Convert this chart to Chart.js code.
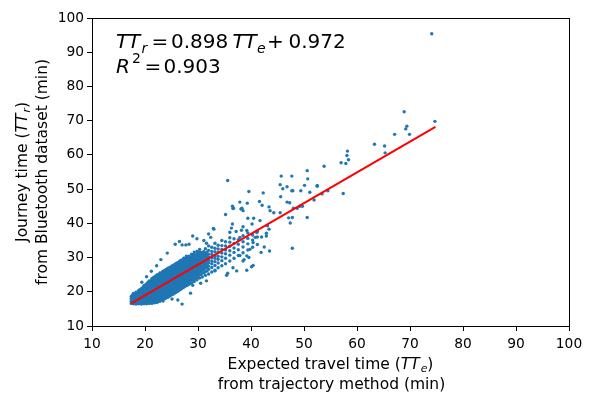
<!DOCTYPE html>
<html>
<head>
<meta charset="utf-8">
<script src="https://cdn.jsdelivr.net/npm/chart.js@4.4.0/dist/chart.umd.min.js"></script>
<style>
    html, body { margin: 0; padding: 0; background: #fff; }
    canvas { display: block; }
</style>
</head>
<body>
<canvas id="scatterChart" width="592" height="393"></canvas>
<script>
const xTicks = [10, 20, 30, 40, 50, 60, 70, 80, 90, 100];
const yTicks = [10, 20, 30, 40, 50, 60, 70, 80, 90, 100];

// dense core of the cloud, read strip by strip: [expected time, [journey times]]
const denseStrips = [
    [17.4, [16.6, 17.2, 17.9, 18.6]],
    [17.6, [16.8, 17.5, 18.2, 18.9]],
    [17.8, [16.5, 17.0, 17.7, 18.3, 19.0, 19.5]],
    [18.05, [16.7, 17.3, 18.0, 18.6, 19.2]],
    [18.3, [16.4, 16.9, 17.5, 18.1, 18.8, 19.4, 19.9]],
    [18.55, [16.6, 17.2, 17.8, 18.5, 19.1, 19.8]],
    [18.8, [16.5, 17.1, 17.8, 18.4, 19.0, 19.7, 20.4]],
    [19.05, [16.7, 17.4, 18.1, 18.7, 19.4, 20.1, 20.6]],
    [19.3, [16.4, 16.9, 17.5, 18.2, 18.9, 19.5, 20.2, 20.9]],
    [19.55, [16.6, 17.2, 17.9, 18.5, 19.2, 19.9, 20.5, 21.2]],
    [19.8, [16.5, 17.2, 17.9, 18.6, 19.2, 19.9, 20.6, 21.3, 21.8]],
    [20.05, [16.8, 17.5, 18.2, 18.9, 19.6, 20.3, 20.9, 21.6, 22.0]],
    [20.3, [16.5, 17.0, 17.7, 18.3, 19.0, 19.7, 20.4, 21.0, 21.7, 22.3]],
    [20.55, [16.7, 17.4, 18.1, 18.8, 19.4, 20.1, 20.8, 21.5, 22.1, 22.7]],
    [20.8, [16.6, 17.3, 18.0, 18.7, 19.4, 20.1, 20.7, 21.4, 22.1, 22.8, 23.2]],
    [21.05, [16.9, 17.6, 18.3, 19.0, 19.7, 20.4, 21.1, 21.7, 22.4, 23.1]],
    [21.3, [16.6, 17.2, 17.9, 18.5, 19.2, 19.9, 20.6, 21.3, 22.0, 22.7, 23.4, 23.8]],
    [21.55, [16.9, 17.6, 18.2, 18.9, 19.6, 20.3, 20.9, 21.6, 22.3, 23.0, 23.6, 24.1]],
    [21.8, [16.8, 17.5, 18.2, 18.9, 19.6, 20.3, 21.0, 21.6, 22.3, 23.0, 23.7, 24.3]],
    [22.05, [17.1, 17.8, 18.5, 19.2, 19.9, 20.6, 21.3, 22.0, 22.7, 23.4, 24.0, 24.6]],
    [22.3, [16.9, 17.6, 18.3, 19.0, 19.7, 20.4, 21.1, 21.8, 22.5, 23.2, 23.9, 24.6, 25.0]],
    [22.55, [17.3, 18.0, 18.7, 19.4, 20.1, 20.8, 21.5, 22.2, 22.9, 23.6, 24.3, 24.9]],
    [22.8, [17.2, 17.9, 18.6, 19.3, 20.0, 20.7, 21.4, 22.1, 22.8, 23.5, 24.2, 24.9, 25.5]],
    [23.05, [17.6, 18.3, 19.0, 19.7, 20.4, 21.1, 21.8, 22.5, 23.2, 23.9, 24.6, 25.3]],
    [23.3, [17.5, 18.2, 18.9, 19.6, 20.3, 21.0, 21.7, 22.4, 23.1, 23.8, 24.5, 25.2, 25.9]],
    [23.55, [17.9, 18.6, 19.3, 20.0, 20.7, 21.4, 22.1, 22.8, 23.5, 24.2, 24.9, 25.6, 26.1]],
    [23.8, [18.0, 18.7, 19.4, 20.1, 20.8, 21.5, 22.2, 22.9, 23.6, 24.3, 25.0, 25.7, 26.3]],
    [24.05, [18.3, 19.0, 19.7, 20.4, 21.1, 21.8, 22.5, 23.2, 23.9, 24.6, 25.3, 26.0, 26.6]],
    [24.3, [18.4, 19.1, 19.8, 20.5, 21.2, 21.9, 22.6, 23.3, 24.0, 24.7, 25.4, 26.1, 26.8]],
    [24.55, [18.7, 19.4, 20.1, 20.8, 21.5, 22.2, 22.9, 23.6, 24.3, 25.0, 25.7, 26.4, 27.0]],
    [24.8, [18.9, 19.6, 20.3, 21.0, 21.7, 22.4, 23.1, 23.8, 24.5, 25.2, 25.9, 26.6, 27.2]],
    [25.05, [19.2, 19.9, 20.6, 21.3, 22.0, 22.7, 23.4, 24.1, 24.8, 25.5, 26.2, 26.9, 27.5]],
    [25.3, [19.3, 20.0, 20.7, 21.4, 22.1, 22.8, 23.5, 24.2, 24.9, 25.6, 26.3, 27.0, 27.7]],
    [25.55, [19.6, 20.3, 21.0, 21.7, 22.4, 23.1, 23.8, 24.5, 25.2, 25.9, 26.6, 27.3, 27.9]],
    [25.8, [19.8, 20.5, 21.2, 21.9, 22.6, 23.3, 24.0, 24.7, 25.4, 26.1, 26.8, 27.5, 28.2]],
    [26.05, [20.1, 20.8, 21.5, 22.2, 22.9, 23.6, 24.3, 25.0, 25.7, 26.4, 27.1, 27.8, 28.4]],
    [26.3, [20.3, 21.0, 21.7, 22.4, 23.1, 23.8, 24.5, 25.2, 25.9, 26.6, 27.3, 28.0, 28.6]],
    [26.55, [20.6, 21.3, 22.0, 22.7, 23.4, 24.1, 24.8, 25.5, 26.2, 26.9, 27.6, 28.3, 28.9]],
    [26.8, [20.8, 21.6, 22.3, 23.0, 23.7, 24.4, 25.1, 25.8, 26.5, 27.2, 27.9, 28.6, 29.2]],
    [27.05, [21.1, 21.9, 22.6, 23.3, 24.0, 24.7, 25.4, 26.1, 26.8, 27.5, 28.2, 28.9]],
    [27.3, [21.3, 22.0, 22.8, 23.5, 24.2, 24.9, 25.6, 26.3, 27.0, 27.7, 28.4, 29.2, 29.8]],
    [27.55, [21.6, 22.4, 23.1, 23.8, 24.5, 25.2, 25.9, 26.6, 27.3, 28.0, 28.7, 29.5]],
    [27.8, [21.8, 22.7, 23.4, 24.1, 24.8, 25.5, 26.2, 26.9, 27.6, 28.3, 29.0, 29.8, 30.4]],
    [28.05, [22.0, 22.9, 23.7, 24.4, 25.1, 25.8, 26.5, 27.2, 27.9, 28.6, 29.4, 30.1]],
    [28.3, [22.2, 23.1, 23.9, 24.6, 25.3, 26.0, 26.8, 27.5, 28.2, 28.9, 29.7, 30.4]],
    [28.55, [22.5, 23.4, 24.2, 24.9, 25.6, 26.3, 27.0, 27.7, 28.5, 29.2, 29.9]],
    [28.8, [22.6, 23.6, 24.4, 25.1, 25.9, 26.6, 27.3, 28.1, 28.8, 29.6, 30.3, 31.0]],
    [29.05, [23.3, 24.2, 25.0, 25.8, 26.5, 27.3, 28.0, 28.8, 29.6, 30.4]],
    [29.3, [23.0, 24.0, 24.9, 25.7, 26.4, 27.2, 27.9, 28.7, 29.4, 30.2, 31.0, 31.6]],
    [29.55, [23.8, 24.7, 25.6, 26.4, 27.3, 28.1, 28.9, 29.7, 30.6]],
    [29.8, [23.5, 24.5, 25.3, 26.1, 27.0, 27.7, 28.5, 29.2, 30.0, 30.9, 31.8]],
    [30.05, [24.3, 25.3, 26.2, 27.1, 27.9, 28.7, 29.5, 30.4, 31.2]],
    [30.3, [24.0, 25.0, 25.9, 26.8, 27.5, 28.3, 29.1, 29.9, 30.8, 31.7, 32.4]],
    [30.55, [25.0, 26.1, 27.0, 27.8, 28.6, 29.4, 30.3, 31.1]],
    [30.8, [24.3, 25.6, 26.4, 27.2, 28.1, 28.9, 29.6, 30.6, 31.5]],
    [31.1, [25.5, 26.6, 27.5, 28.3, 29.1, 30.0, 30.9, 31.8]],
    [31.4, [24.8, 25.9, 27.0, 27.8, 28.6, 29.5, 30.3, 31.2, 32.6]],
    [31.7, [26.1, 27.2, 28.1, 29.0, 29.8, 30.7, 31.6]],
    [32.0, [25.2, 26.6, 27.5, 28.5, 29.3, 30.1, 31.0, 32.1, 33.4]],
    [32.6, [25.8, 27.1, 28.2, 29.0, 30.0, 30.9, 31.8, 33.0]],
    [33.2, [26.3, 27.7, 28.8, 29.8, 30.6, 31.7, 32.7, 34.2]],
    [33.8, [27.0, 28.4, 29.5, 30.4, 31.5, 32.5, 33.6]],
    [34.5, [27.6, 29.1, 30.2, 31.3, 32.4, 33.5, 35.0]],
    [35.2, [28.2, 29.8, 31.1, 32.2, 33.4, 34.6]],
    [36.0, [29.0, 30.7, 32.0, 33.3, 34.5, 35.8]],
    [36.8, [29.8, 31.5, 32.8, 34.1, 35.5]],
    [37.6, [30.6, 32.3, 33.9, 35.2]],
    [38.5, [31.4, 33.1, 34.6, 36.4]],
    [39.4, [32.2, 34.0, 35.6, 37.2]],
    [40.3, [33.0, 35.1, 36.6]],
    [41.2, [33.8, 36.0, 37.7]]
];

// scattered points around the core and along the upper tail
const spreadPoints = [
    [23.4, 17.3], [25.1, 17.9], [27.0, 16.4], [26.2, 17.6], [28.6, 19.6], [29.0, 21.9],
    [30.5, 22.5], [27.2, 21.5], [31.6, 23.2], [33.2, 26.1], [35.4, 24.8], [37.3, 26.1],
    [35.6, 25.4], [36.6, 27.0], [39.2, 26.3], [40.1, 27.3], [40.4, 27.7], [38.7, 29.4],
    [39.6, 30.0], [37.9, 30.6], [41.9, 31.5], [42.5, 33.1], [43.5, 31.9], [47.8, 32.7],
    [39.2, 30.5], [39.8, 32.4], [38.5, 29.0], [40.4, 34.4], [41.1, 37.3],
    [25.7, 33.9], [26.5, 34.7], [27.0, 33.7], [27.7, 33.7], [28.3, 33.9], [29.0, 36.3],
    [29.8, 35.5], [33.0, 38.3], [32.0, 36.9], [31.1, 35.0], [31.6, 34.2], [32.9, 38.5],
    [32.4, 35.9], [24.2, 31.3], [23.0, 29.4], [22.2, 27.6], [21.2, 26.0], [20.3, 24.4],
    [19.4, 22.8]
];

const outlierPoints = [
    [36.0, 37.4], [36.3, 38.6], [36.5, 39.8], [37.2, 37.6], [38.2, 38.0], [38.5, 39.0],
    [39.2, 37.9], [37.9, 35.9], [40.8, 35.9], [42.0, 36.0], [42.9, 36.3], [42.9, 37.1],
    [43.4, 38.3], [43.1, 39.3], [41.7, 40.8], [40.2, 39.8], [40.5, 41.5], [39.4, 41.5],
    [38.5, 43.7], [35.2, 42.6], [36.5, 45.0], [36.6, 44.3], [38.1, 44.2], [37.9, 46.2],
    [39.3, 45.9], [36.7, 44.4], [38.3, 44.4], [41.6, 46.4], [42.1, 45.3], [43.4, 44.8],
    [43.6, 43.7], [44.3, 43.1], [45.5, 43.1], [47.1, 41.6], [47.8, 41.7], [50.6, 41.7],
    [47.4, 40.1], [46.8, 46.2], [47.3, 46.0], [48.0, 44.4], [48.7, 44.4], [49.2, 45.0],
    [49.7, 45.0], [45.6, 47.8], [51.9, 46.8], [53.4, 48.6], [39.6, 49.3], [42.3, 48.9],
    [47.7, 49.5], [47.9, 49.5], [49.4, 49.5], [51.1, 49.1], [52.5, 50.8], [54.5, 49.5],
    [57.4, 48.7], [45.5, 51.3], [46.8, 50.7], [46.0, 50.1], [50.1, 51.1], [52.5, 51.1],
    [50.7, 53.0], [45.7, 53.8], [47.7, 53.8], [35.6, 52.5], [50.6, 55.4], [53.8, 56.7],
    [57.0, 57.7], [57.9, 57.5], [58.4, 58.6], [58.1, 59.8], [58.2, 61.1], [65.3, 60.6],
    [63.3, 63.1], [65.2, 62.6], [67.1, 66.0], [69.9, 66.0], [69.2, 67.6], [69.4, 68.4],
    [74.7, 69.8], [68.9, 72.6], [74.1, 95.4]
];

// fitted line, end points
const fitX = [17.4, 74.8];
const fitY = [16.6, 68.2];

const FONT = '"DejaVu Sans", "Liberation Sans", sans-serif';
const BLUE = '#1f77b4';

const scatterData = [];
denseStrips.forEach(([x, ys]) => ys.forEach((y) => scatterData.push({ x: x, y: y })));
spreadPoints.concat(outlierPoints).forEach(([x, y]) => scatterData.push({ x: x, y: y }));
const fitData = fitX.map((x, i) => ({ x: x, y: fitY[i] }));

// mixed roman / italic text with subscripts
function drawRich(ctx, parts, x, y, size, align) {
    const setFont = (p) => {
        const fs = p.sub ? size * 0.7 : size;
        ctx.font = (p.it ? 'italic ' : '') + fs + 'px ' + FONT;
    };
    let total = 0;
    parts.forEach((p) => { setFont(p); total += ctx.measureText(p.t).width + (p.gap || 0); });
    let cx = align === 'center' ? x - total / 2 : x;
    parts.forEach((p) => {
        setFont(p);
        const dy = p.sub ? size * 0.2 : 0;
        ctx.fillText(p.t, cx, y + dy);
        cx += ctx.measureText(p.t).width + (p.gap || 0);
    });
}

const decorations = {
    id: 'decorations',
    afterDraw(chart) {
        const ctx = chart.ctx;
        const a = chart.chartArea;
        ctx.save();

        // frame
        ctx.strokeStyle = '#000';
        ctx.lineWidth = 1;
        ctx.strokeRect(Math.round(a.left) + 0.5, Math.round(a.top) + 0.5,
            Math.round(a.right - a.left), Math.round(a.bottom - a.top));

        ctx.fillStyle = '#000';
        ctx.textBaseline = 'alphabetic';
        ctx.textAlign = 'left';

        // equation, placed piece by piece like the mathtext
        const eq = [
            ['T', true, false, 116, 47.5],
            ['T', true, false, 128, 47.5],
            ['r', true, true, 141.5, 52.5],
            ['=', false, false, 151.5, 47.5],
            ['0.898', false, false, 171, 47.5],
            ['T', true, false, 232.5, 47.5],
            ['T', true, false, 244.5, 47.5],
            ['e', true, true, 257, 52.5],
            ['+', false, false, 267, 47.5],
            ['0.972', false, false, 288.5, 47.5],
            ['R', true, false, 116, 72],
            ['2', false, true, 132, 62],
            ['=', false, false, 144.5, 72],
            ['0.903', false, false, 163.5, 72]
        ];
        eq.forEach(([t, it, small, x, y]) => {
            ctx.font = (it ? 'italic ' : '') + (small ? 14 : 20) + 'px ' + FONT;
            ctx.fillText(t, a.left - 92 + x, a.top - 17.5 + y);
        });

        // axis titles
        const cxMid = (a.left + a.right) / 2;
        const cyMid = (a.top + a.bottom) / 2;
        const fs = 15.5;
        drawRich(ctx, [
            { t: 'Expected travel time (' }, { t: 'TT', it: true, gap: 1 }, { t: 'e', it: true, sub: true }, { t: ')' }
        ], cxMid, 368.5, fs, 'center');
        drawRich(ctx, [{ t: 'from trajectory method (min)' }], cxMid + 1, 389, fs, 'center');

        ctx.translate(0, cyMid);
        ctx.rotate(-Math.PI / 2);
        drawRich(ctx, [
            { t: 'Journey time (' }, { t: 'TT', it: true, gap: 1 }, { t: 'r', it: true, sub: true }, { t: ')' }
        ], 0, 27, fs, 'center');
        drawRich(ctx, [{ t: 'from Bluetooth dataset (min)' }], 0, 47, fs, 'center');

        ctx.restore();
    }
};

const axisCommon = {
    type: 'linear',
    min: 10,
    max: 100,
    grid: {
        display: true,
        drawOnChartArea: false,
        drawTicks: true,
        tickLength: 5,
        color: '#000',
        tickColor: '#000'
    },
    border: { display: false },
    ticks: {
        color: '#000',
        font: { family: FONT, size: 13.8 },
        padding: 3,
        autoSkip: false,
        maxRotation: 0
    }
};

new Chart(document.getElementById('scatterChart').getContext('2d'), {
    type: 'scatter',
    data: {
        datasets: [
            {
                label: 'fit',
                data: fitData,
                showLine: true,
                borderColor: '#ff0000',
                borderWidth: 2,
                pointRadius: 0,
                order: 0
            },
            {
                label: 'trips',
                data: scatterData,
                backgroundColor: BLUE,
                borderWidth: 0,
                pointRadius: 1.7,
                order: 1
            }
        ]
    },
    options: {
        responsive: false,
        animation: false,
        devicePixelRatio: 1,
        layout: { padding: { left: 0, right: 23, top: 18, bottom: 0 } },
        plugins: { legend: { display: false }, tooltip: { enabled: false } },
        scales: {
            x: Object.assign({}, axisCommon, {
                position: 'bottom',
                afterBuildTicks: (s) => { s.ticks = xTicks.map((v) => ({ value: v })); },
                afterFit: (s) => { s.height = 67; },
                ticks: Object.assign({}, axisCommon.ticks, { padding: 5 })
            }),
            y: Object.assign({}, axisCommon, {
                position: 'left',
                afterBuildTicks: (s) => { s.ticks = yTicks.map((v) => ({ value: v })); },
                afterFit: (s) => { s.width = 92; }
            })
        }
    },
    plugins: [decorations]
});
</script>
</body>
</html>
